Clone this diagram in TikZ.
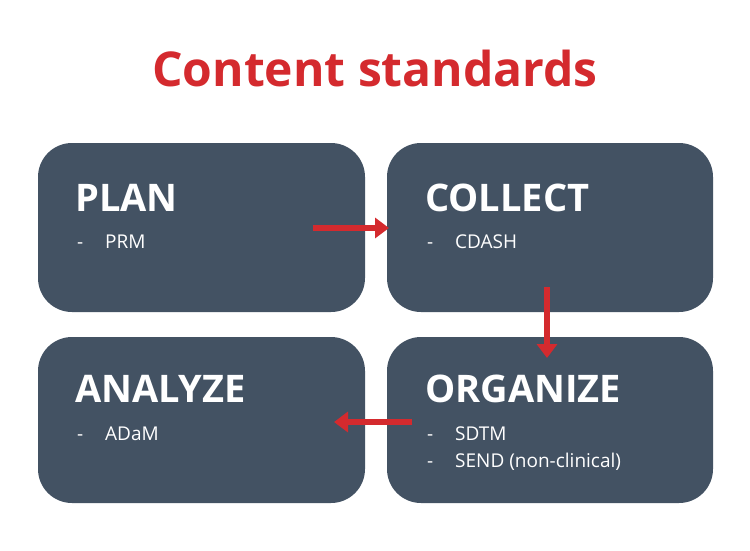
\documentclass[tikz,border=0pt]{standalone}
\usepackage{fontspec}
\setmainfont{Open Sans}
\usetikzlibrary{positioning,arrows.meta}
\definecolor{boxgray}{HTML}{435263}
\definecolor{titlered}{HTML}{D42A2E}
\begin{document}
\begin{tikzpicture}[
		x=1pt,y=-1pt,
		stage/.style={
			fill=boxgray,
			rounded corners=34pt,
		},
		heading/.style={
			anchor=base west,
			text=white,
			font=\fontsize{38}{42}\selectfont\bfseries,
			inner sep=0pt,
		},
		item/.style={
			anchor=base west,
			text=white,
			font=\fontsize{19}{23}\selectfont,
			inner sep=0pt,
		},
		flow/.style={
			draw=titlered,
			line width=6pt,
			-{Triangle[length=14pt,width=20pt]},
		},
		]
		\useasboundingbox (0,0) rectangle (750,550);
		% Title
		\node[text=titlered,font=\fontsize{48}{54}\selectfont\bfseries] (title) at (375,68) {Content standards};
		% Draw the four stages
		\fill[stage] (38,143) rectangle (365,312);
		\fill[stage] (387,143) rectangle (713,312);
		\fill[stage] (38,337) rectangle (365,503);
		\fill[stage] (387,337) rectangle (713,503);
		% Headings
		\node[heading] (plan) at (75,211) {PLAN};
		\node[heading] (collect) at (425,211) {COLLECT};
		\node[heading] (analyze) at (75,402) {ANALYZE};
		\node[heading] (organize) at (425,402) {ORGANIZE};
		% Items
		\foreach \x/\y/\txt in {77/248/PRM,427/248/CDASH,77/440/ADaM,427/440/SDTM,427/467/SEND (non-clinical)} {
			\node[item] at (\x,\y) {-};
			\node[item] at (\x+28,\y) {\txt};
		}
		% Arrows between stages
		\coordinate (a1) at (313,228);
		\coordinate (b1) at (389,228);
		\coordinate (a2) at (547,287);
		\coordinate (b2) at (547,358);
		\coordinate (a3) at (412,422);
		\coordinate (b3) at (334,422);
		\draw[flow] (a1) -- (b1);
		\draw[flow] (a2) -- (b2);
		\draw[flow] (a3) -- (b3);
	\end{tikzpicture}
\end{document}
